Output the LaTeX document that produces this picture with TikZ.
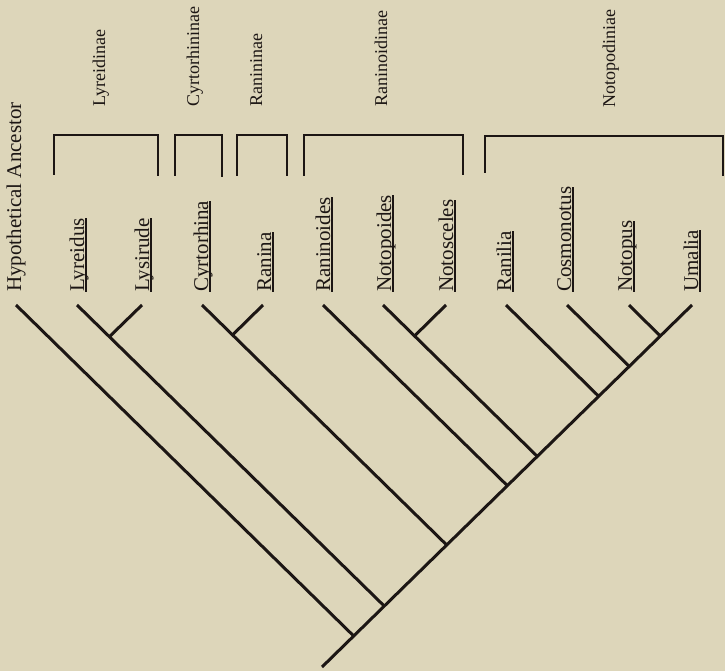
\documentclass[tikz,border=0pt]{standalone}
\usepackage{fontspec}
\setmainfont{Liberation Serif}
\definecolor{bg}{RGB}{221,214,186}
\definecolor{ink}{RGB}{28,22,20}
\newcommand{\tx}[1]{\sbox0{#1}\rlap{\rule[-2.6pt]{\wd0}{1.3pt}}\usebox0}
\begin{document}
\begin{tikzpicture}[x=1pt,y=-1pt,
  branch/.style={line width=3pt, draw=ink},
  brk/.style={line width=1.2pt, draw=ink},
  taxon/.style={rotate=90, anchor=base west, inner sep=0pt, text=ink, font=\fontsize{21}{25}\selectfont},
  subfam/.style={rotate=90, anchor=base west, inner sep=0pt, text=ink, font=\fontsize{18}{22}\selectfont}]
\fill[bg] (0,0) rectangle (725,671);
\useasboundingbox (0,0) rectangle (725,671);

% tips
\coordinate (root) at (322,667);
\coordinate (tHA)  at (16,305);
\coordinate (tLyr) at (77,305);
\coordinate (tLys) at (142,305);
\coordinate (tCyt) at (202,305);
\coordinate (tRan) at (263,305);
\coordinate (tRnd) at (323,305);
\coordinate (tNpd) at (383,305);
\coordinate (tNsc) at (446,305);
\coordinate (tRnl) at (506,305);
\coordinate (tCos) at (567,305);
\coordinate (tNtp) at (629,305);
\coordinate (tUma) at (692,305);
% junctions on the spine
\coordinate (jHA)  at (353.7,636);
\coordinate (jLyr) at (384.2,606);
\coordinate (jCyt) at (446.7,545);
\coordinate (jRnd) at (507.2,485.5);
\coordinate (jNpd) at (537.2,456.3);
\coordinate (jRnl) at (598.7,396.3);
\coordinate (jCos) at (629.2,366.4);
\coordinate (jNtp) at (660.2,336);
% small junctions
\coordinate (sLyr) at (109.5,336.6);
\coordinate (sCyt) at (232.5,335);
\coordinate (sNpd) at (414.5,336);

% tree
\draw[branch] (root) -- (tUma);
\draw[branch] (tHA) -- (jHA);
\draw[branch] (tLyr) -- (jLyr);
\draw[branch] (tLys) -- (sLyr);
\draw[branch] (tCyt) -- (jCyt);
\draw[branch] (tRan) -- (sCyt);
\draw[branch] (tRnd) -- (jRnd);
\draw[branch] (tNpd) -- (jNpd);
\draw[branch] (tNsc) -- (sNpd);
\draw[branch] (tRnl) -- (jRnl);
\draw[branch] (tCos) -- (jCos);
\draw[branch] (tNtp) -- (jNtp);

% taxon labels
\node[taxon] (lHA)  at (21,292)  {Hypothetical Ancestor};
\node[taxon] (lLyr) at (84,292)  {\tx{Lyreidus}};
\node[taxon] (lLys) at (149,292) {\tx{Lysirude}};
\node[taxon] (lCyt) at (208,292) {\tx{Cyrtorhina}};
\node[taxon] (lRan) at (271,292) {\tx{Ranina}};
\node[taxon] (lRnd) at (330,292) {\tx{Raninoides}};
\node[taxon] (lNpd) at (391,292) {\tx{Notopoides}};
\node[taxon] (lNsc) at (453,292) {\tx{Notosceles}};
\node[taxon] (lRnl) at (511,292) {\tx{Ranilia}};
\node[taxon] (lCos) at (571,292) {\tx{Cosmonotus}};
\node[taxon] (lNtp) at (632,292) {\tx{Notopus}};
\node[taxon] (lUma) at (698,292) {\tx{Umalia}};

% brackets
\draw[brk] (54,175) -- (54,135) -- (158,135) -- (158,176);
\draw[brk] (175,176) -- (175,135) -- (222,135) -- (222,177);
\draw[brk] (237,176) -- (237,135) -- (287,135) -- (287,176);
\draw[brk] (304,176) -- (304,135) -- (463,135) -- (463,175);
\draw[brk] (485,173) -- (485,136) -- (723,136) -- (723,176);

% subfamily labels
\node[subfam] (sfLyr) at (105,107) {Lyreidinae};
\node[subfam] (sfCyt) at (199,107) {Cyrtorhininae};
\node[subfam] (sfRan) at (262,107) {Ranininae};
\node[subfam] (sfRnd) at (387,107) {Raninoidinae};
\node[subfam] (sfNtp) at (615,108) {Notopodiniae};
\end{tikzpicture}
\end{document}
